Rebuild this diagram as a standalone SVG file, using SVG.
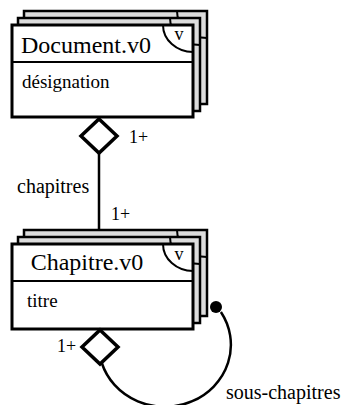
<svg xmlns="http://www.w3.org/2000/svg" width="346" height="405" viewBox="0 0 346 405">
<defs>
<path id="dia" d="M0,-17 L18,0 L0,17 L-18,0 Z" fill="#fff" stroke="#000" stroke-width="3.5"/>
</defs>
<rect width="346" height="405" fill="#fff"/>
<g id="document">
<g fill="#dcdcdc" stroke="#000" stroke-width="2.5">
<rect x="24" y="11" width="183" height="93"/>
<path fill="none" stroke-width="2" d="M177,11 A30,27 0 0 0 207,38"/>
<rect x="18" y="18" width="182" height="93"/>
<path fill="none" stroke-width="2" d="M170,18 A30,27 0 0 0 200,45"/>
<rect fill="#fff" stroke-width="3" x="12" y="25" width="181" height="92"/>
<path fill="none" stroke-width="2" d="M163,25 A30,27 0 0 0 193,52"/>
<line stroke-width="2" x1="12" y1="62" x2="193" y2="62"/>
</g>
<text x="86" y="53" font-family="Liberation Serif" font-size="24" text-anchor="middle">Document.v0</text>
<text x="179" y="40" font-family="Liberation Serif" font-size="18" text-anchor="middle">v</text>
<text x="22" y="88" font-family="Liberation Serif" font-size="19">désignation</text>
</g>
<g id="chapitre">
<g fill="#dcdcdc" stroke="#000" stroke-width="2.5">
<rect x="24" y="230" width="183" height="86"/>
<path fill="none" stroke-width="2" d="M177,230 A30,27 0 0 0 207,257"/>
<rect x="18" y="237" width="182" height="86"/>
<path fill="none" stroke-width="2" d="M170,237 A30,27 0 0 0 200,264"/>
<rect fill="#fff" stroke-width="3" x="12" y="244" width="181" height="85"/>
<path fill="none" stroke-width="2" d="M163,244 A30,27 0 0 0 193,271"/>
<line stroke-width="2" x1="12" y1="281" x2="193" y2="281"/>
</g>
<text x="87" y="270" font-family="Liberation Serif" font-size="24" text-anchor="middle">Chapitre.v0</text>
<text x="179" y="260" font-family="Liberation Serif" font-size="18" text-anchor="middle">v</text>
<text x="27" y="307" font-family="Liberation Serif" font-size="19">titre</text>
</g>
<g id="connectors">
<g fill="none" stroke="#000" stroke-width="2.5">
<line x1="99" y1="153" x2="99" y2="230"/>
<path d="M101.8,363 A66,62 0 1 0 220.9,312"/>
</g>
<use href="#dia" x="99" y="136"/>
<circle cx="216" cy="307" r="6" fill="#000"/>
<use href="#dia" x="100" y="347"/>
<text x="129" y="143" font-family="Liberation Serif" font-size="18">1+</text>
<text x="17" y="193" font-family="Liberation Serif" font-size="20">chapitres</text>
<text x="111" y="220" font-family="Liberation Serif" font-size="18">1+</text>
<text x="57" y="352" font-family="Liberation Serif" font-size="18">1+</text>
<text x="226" y="399" font-family="Liberation Serif" font-size="20">sous-chapitres</text>
</g>
</svg>
